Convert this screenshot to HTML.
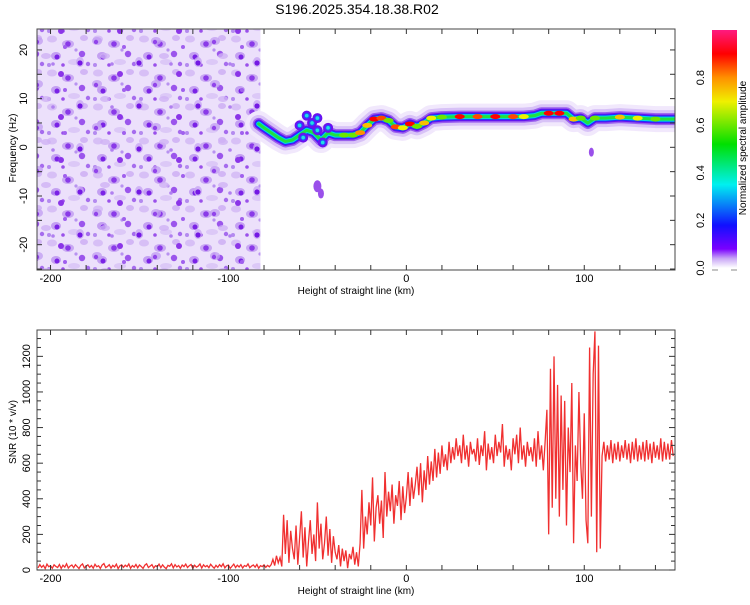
<!DOCTYPE html>
<html><head><meta charset="utf-8">
<style>
body{margin:0;background:#fff;width:750px;height:600px;overflow:hidden;font-family:"Liberation Sans",sans-serif;}
svg text{font-family:"Liberation Sans",sans-serif;fill:#000;}
</style></head>
<body>
<svg id="chart" width="750" height="600" xmlns="http://www.w3.org/2000/svg">
<defs>
<pattern id="noise" width="46" height="34" patternUnits="userSpaceOnUse">
<rect width="46" height="34" fill="#ece0fb"/>
<ellipse cx="6" cy="5" rx="5" ry="3.5" fill="#d7bff6"/>
<ellipse cx="22" cy="10" rx="6" ry="4" fill="#c9a8f3"/>
<circle cx="22" cy="10" r="2.8" fill="#8a3ae8"/>
<ellipse cx="38" cy="4" rx="4" ry="3" fill="#d2b6f5"/>
<circle cx="36" cy="20" r="3.2" fill="#9b55ec"/>
<ellipse cx="10" cy="22" rx="5" ry="4" fill="#c4a0f2"/>
<circle cx="11" cy="23" r="2.5" fill="#7a22e6"/>
<ellipse cx="28" cy="28" rx="6" ry="3" fill="#dcc8f7"/>
<circle cx="42" cy="30" r="2.2" fill="#a66cee"/>
<circle cx="3" cy="31" r="2" fill="#b48af0"/>
<circle cx="17" cy="31" r="1.8" fill="#9a50eb"/>
<circle cx="30" cy="16" r="1.6" fill="#b892f1"/>
</pattern>
<pattern id="noise2" x="13" y="7" width="59" height="43" patternUnits="userSpaceOnUse">
<ellipse cx="8" cy="12" rx="4" ry="5" fill="#c8a6f4" opacity="0.8"/>
<circle cx="8" cy="13" r="2.6" fill="#7418e4"/>
<ellipse cx="33" cy="6" rx="5" ry="3" fill="#d0b2f5" opacity="0.8"/>
<circle cx="48" cy="24" r="3" fill="#8b35e8"/>
<ellipse cx="25" cy="34" rx="5" ry="4" fill="#c3a0f2" opacity="0.8"/>
<circle cx="24" cy="35" r="2.2" fill="#9144ea"/>
<circle cx="52" cy="40" r="2" fill="#a060ee"/>
<circle cx="40" cy="14" r="1.8" fill="#b080f0"/>
</pattern>
<linearGradient id="cmap" x1="0" y1="1" x2="0" y2="0">
<stop offset="0" stop-color="#ffffff"/>
<stop offset="0.04" stop-color="#c8a6f6"/>
<stop offset="0.08" stop-color="#7a00ff"/>
<stop offset="0.18" stop-color="#1010ff"/>
<stop offset="0.35" stop-color="#00f0f0"/>
<stop offset="0.52" stop-color="#00e000"/>
<stop offset="0.7" stop-color="#f0f000"/>
<stop offset="0.8" stop-color="#ff9000"/>
<stop offset="0.9" stop-color="#ff0000"/>
<stop offset="1" stop-color="#ff1a80"/>
</linearGradient>
<clipPath id="clipTop"><rect x="37" y="29" width="638" height="241"/></clipPath>
<clipPath id="clipBot"><rect x="37" y="330" width="638" height="240"/></clipPath>
</defs>
<text x="357" y="14" font-size="14" text-anchor="middle">S196.2025.354.18.38.R02</text>
<g id="gtop" clip-path="url(#clipTop)"></g>
<g id="gbot" clip-path="url(#clipBot)"></g>
<g id="axes"></g>
</svg>
<script>
// ---- data ----
const noiseEndKm = -82;
const ridgeKm =   [-83,-80,-76,-72,-68,-64,-60,-56,-52,-48,-44,-40,-35,-30,-26,-22,-18,-14,-10,-6,-2,2,6,10,14,20,30,40,50,60,66,72,76,80,86,90,94,98,102,106,112,120,130,140,151];
const ridgeHz =   [4.8,4.0,3.0,2.0,1.2,1.5,2.5,3.5,3.0,1.5,3.0,2.5,2.5,2.5,3.0,4.5,5.8,6.0,5.5,4.2,4.0,4.8,4.3,5.0,6.0,6.2,6.3,6.3,6.3,6.3,6.3,6.5,7.0,7.0,7.0,7.0,5.8,6.0,5.0,6.0,6.0,6.2,6.0,5.8,5.8];
const ridgeAmp =  [0.5,0.45,0.4,0.45,0.5,0.35,0.35,0.4,0.3,0.35,0.45,0.55,0.6,0.6,0.8,0.75,0.9,0.85,0.6,0.85,0.7,0.9,0.6,0.75,0.7,0.6,0.9,0.85,0.9,0.85,0.7,0.5,0.45,0.9,0.9,0.5,0.75,0.6,0.4,0.6,0.55,0.75,0.7,0.6,0.55];
const blobKm = [-60,-56,-53,-50,-47,-44,-58,-50];
const blobHz = [4.5,6.5,5.0,3.5,1.0,4.0,2.0,6.0];
const snrStartKm = -207;
const snrValues = [
12,30,15,26,8,33,18,24,10,29,20,14,31,9,27,16,35,11,22,28,13,30,19,8,26,34,12,21,29,15,
25,10,32,18,24,9,28,36,14,20,30,11,26,17,33,8,23,29,15,27,19,34,10,25,16,31,12,28,20,9,
27,35,14,22,30,11,24,18,33,13,29,16,8,26,21,35,12,30,17,25,10,28,19,33,14,24,31,9,27,16,
22,34,11,29,18,25,13,32,20,10,26,15,30,19,35,12,24,28,9,21,33,14,27,17,30,11,25,20,34,13,
22,28,16,31,10,24,19,29,15,26,18,
30,60,25,80,40,70,20,
310,90,280,40,220,120,60,250,30,180,330,70,240,20,160,280,90,200,50,380,120,260,60,150,300,80,230,40,190,100,
60,140,20,120,50,110,10,90,60,130,30,100,20,150,
450,120,300,200,380,250,520,160,350,420,260,390,180,550,300,440,
330,480,260,420,360,500,280,470,320,410,
550,360,520,400,480,580,420,600,380,560,450,640,480,610,500,680,520,660,540,700,580,650,560,720,600,690,620,740,640,700,
600,760,620,700,580,720,650,680,610,740,590,700,640,780,560,710,620,690,600,760,640,720,660,820,580,700,620,680,560,740,650,760,600,800,620,700,580,720,640,690,610,740,580,780,620,700,560,720,
900,200,1130,350,1200,400,1040,300,980,450,950,250,800,550,1050,150,700,500,1000,600,
400,880,280,150,1250,300,1100,1340,100,1260,120,640,
720,610,700,620,730,600,710,620,720,610,700,630,730,620,710,600,720,620,740,610,700,620,720,610,730,620,710,600,720,630,700,620,740,610,720,620,710,620,730,640];
const xTickLabels = [-200,-100,0,100];
const freqTickLabels = [-20,-10,0,10,20];
const snrTickLabels = [0,200,400,600,800,1000,1200];
const cbTickLabels = [0.0,0.2,0.4,0.6,0.8];

// ---- scales ----
const X0=37,X1=675,KM0=-207.6,KM1=151.0;
const xs = km => X0 + (km-KM0)/(KM1-KM0)*(X1-X0);
const T0=29,T1=270,F0=24.3,F1=-25.2;
const yf = hz => T0 + (F0-hz)/(F0-F1)*(T1-T0);
const B0=330,B1=570,S0=1348,S1=0;
const ys = v => B0 + (S0-v)/(S0-S1)*(B1-B0);
const NS="http://www.w3.org/2000/svg";
function mk(tag, attrs, parent){const e=document.createElementNS(NS,tag);for(const k in attrs)e.setAttribute(k,attrs[k]);parent.appendChild(e);return e;}
function cmap(a){
  const st=[[0,[255,255,255]],[0.04,[200,166,246]],[0.08,[122,0,255]],[0.18,[16,16,255]],[0.35,[0,240,240]],[0.52,[0,224,0]],[0.7,[240,240,0]],[0.8,[255,144,0]],[0.9,[255,0,0]],[1,[255,26,128]]];
  for(let i=1;i<st.length;i++){if(a<=st[i][0]){const t=(a-st[i-1][0])/(st[i][0]-st[i-1][0]);const c=st[i-1][1].map((v,j)=>Math.round(v+t*(st[i][1][j]-v)));return `rgb(${c})`;}}
  return 'rgb(255,26,128)';
}
const gTop=document.getElementById('gtop'), gBot=document.getElementById('gbot'), axes=document.getElementById('axes');

// noise region
const nr=mk('rect',{x:X0,y:T0,width:xs(noiseEndKm)-X0,height:T1-T0,fill:'url(#noise)'},gTop);


const nr2=mk('rect',{x:X0,y:T0,width:xs(noiseEndKm)-X0,height:T1-T0,fill:'url(#noise2)'},gTop);



// ridge
const pts=ridgeKm.map((k,i)=>xs(k)+','+yf(ridgeHz[i])).join(' ');
const layers=[[26,'#f1e8fc'],[18,'#d8c2f7'],[12,'#9a60ee'],[9,'#6a10f0'],[7,'#1a30ff'],[5,'#00d8e8'],[3,'#20e040']];
layers.forEach(([w,c])=>{
  const pl=mk('polyline',{points:pts,fill:'none',stroke:c,'stroke-width':w,'stroke-linejoin':'round','stroke-linecap':'round'},gTop);
  
  
});
blobKm.forEach((k,i)=>{
  const b=mk('circle',{cx:xs(k),cy:yf(blobHz[i]),r:4,fill:'#2050ff',stroke:'#6a10f0','stroke-width':2},gTop);
  
  
  const c2=mk('circle',{cx:xs(k),cy:yf(blobHz[i]),r:1.8,fill:'#20e0e0'},gTop);
  
  
});
ridgeKm.forEach((k,i)=>{
  if(ridgeAmp[i]>0.55){
    const c=mk('ellipse',{cx:xs(k),cy:yf(ridgeHz[i]),rx:5,ry:2.5,fill:cmap(ridgeAmp[i])},gTop);
    
    
  }
});
[[-50,-8,4],[-48,-9.5,3],[104,-1,2.5]].forEach(b=>{
  const e=mk('ellipse',{cx:xs(b[0]),cy:yf(b[1]),rx:b[2],ry:b[2]+2,fill:'#9a50ea'},gTop);
  
  
});

// SNR line
const sp=snrValues.map((v,i)=>xs(snrStartKm+i)+','+ys(v)).join(' ');
const line=mk('polyline',{points:sp,fill:'none',stroke:'#f03030','stroke-width':1.3},gBot);



// axes frames and ticks
function frame(y0,y1,name){
  const r=mk('rect',{x:X0,y:y0,width:X1-X0,height:y1-y0,fill:'none',stroke:'#444','stroke-width':1},axes);
  
  
  for(let k=-200;k<=150;k+=20){const x=xs(k);mk('line',{x1:x,x2:x,y1:y0,y2:y0+5,stroke:'#333'},axes);mk('line',{x1:x,x2:x,y1:y1,y2:y1-5,stroke:'#333'},axes);}
}
frame(T0,T1,'spectrogram-frame');
frame(B0,B1,'snr-frame');
function xlabels(yb,name){
  xTickLabels.forEach(k=>{const t=mk('text',{x:xs(k),y:yb+12,'font-size':11,'text-anchor':'middle'},axes);t.textContent=k;
    
    });
  const t=mk('text',{x:356,y:yb+24,'font-size':10,'text-anchor':'middle'},axes);t.textContent='Height of straight line (km)';
  
  
}
xlabels(T1,'x-axis-title-top');
xlabels(B1,'x-axis-title-bottom');
for(let h=-25;h<=25;h+=5){const y=yf(h);if(y<T0||y>T1)continue;mk('line',{x1:X0,x2:X0+5,y1:y,y2:y,stroke:'#333'},axes);mk('line',{x1:X1,x2:X1-5,y1:y,y2:y,stroke:'#333'},axes);}
freqTickLabels.forEach(h=>{const y=yf(h);const t=mk('text',{x:27,y:y,'font-size':11,'text-anchor':'middle',transform:`rotate(-90 27 ${y})`},axes);t.textContent=h;
  
  });
for(let v=0;v<=1300;v+=50){const y=ys(v);mk('line',{x1:X0,x2:X0+(v%200===0?6:4),y1:y,y2:y,stroke:'#333'},axes);mk('line',{x1:X1,x2:X1-(v%200===0?6:4),y1:y,y2:y,stroke:'#333'},axes);}
snrTickLabels.forEach(v=>{const y=ys(v);const t=mk('text',{x:30,y:y,'font-size':11,'text-anchor':'middle',transform:`rotate(-90 30 ${y})`},axes);t.textContent=v;
  
  });
let t=mk('text',{x:16,y:148,'font-size':10,'text-anchor':'middle',transform:'rotate(-90 16 148)'},axes);t.textContent='Frequency (Hz)';


t=mk('text',{x:16,y:432,'font-size':10,'text-anchor':'middle',transform:'rotate(-90 16 432)'},axes);t.textContent='SNR (10 * v/v)';



// colorbar
const CB0=30,CB1=268;
const cb=mk('rect',{x:712,y:CB0,width:25,height:CB1-CB0,fill:'url(#cmap)'},axes);


cbTickLabels.forEach(v=>{const y=CB1-v*(CB1-CB0);const tt=mk('text',{x:704,y:y,'font-size':11,'text-anchor':'middle',transform:`rotate(-90 704 ${y})`},axes);tt.textContent=v.toFixed(1);
  
  });
mk('line',{x1:712,x2:718,y1:270,y2:270,stroke:'#888'},axes);mk('line',{x1:731,x2:737,y1:270,y2:270,stroke:'#888'},axes);
t=mk('text',{x:746,y:148,'font-size':10,'text-anchor':'middle',transform:'rotate(-90 746 148)'},axes);t.textContent='Normalized spectral amplitude';


</script>
</body></html>
